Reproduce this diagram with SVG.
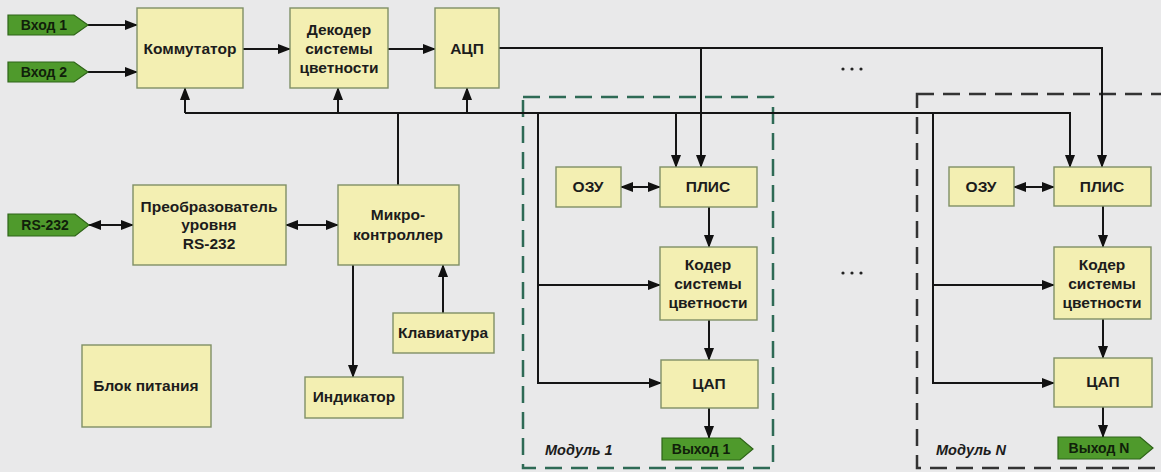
<svg xmlns="http://www.w3.org/2000/svg" width="1161" height="472" viewBox="0 0 1161 472">
<style>
.box{fill:#f3efb2;stroke:#7f8f66;stroke-width:1.4}
.tag{fill:#4f9a2c;stroke:#2e6418;stroke-width:1.2}
.t{font-family:"Liberation Sans",Arial,sans-serif;font-weight:bold;font-size:15.5px;fill:#1c1c1c;text-anchor:middle}
.tt{font-family:"Liberation Sans",Arial,sans-serif;font-weight:bold;font-size:14px;fill:#10200a;text-anchor:middle}
.mod{font-family:"Liberation Sans",Arial,sans-serif;font-weight:bold;font-style:italic;font-size:14.5px;fill:#1c1c1c}
.ln{fill:none;stroke:#151515;stroke-width:2}
.a{marker-end:url(#ah)}
.b{marker-start:url(#ahs);marker-end:url(#ah)}
.dash1{fill:none;stroke:#2e6a55;stroke-width:2.5;stroke-dasharray:17 9}
.dashN{fill:none;stroke:#333;stroke-width:2.5;stroke-dasharray:17 9}
.dot{fill:#222}
</style>
<defs>
<marker id="ah" markerWidth="13" markerHeight="10" refX="12" refY="5" orient="auto" markerUnits="userSpaceOnUse"><path d="M0,0 L13,5 L0,10 Z" fill="#111"/></marker>
<marker id="ahs" markerWidth="13" markerHeight="10" refX="1" refY="5" orient="auto" markerUnits="userSpaceOnUse"><path d="M13,0 L0,5 L13,10 Z" fill="#111"/></marker>
</defs>
<rect x="0" y="0" width="1161" height="472" fill="#e9e9ea"/>

<g id="module-frames">
<rect class="dash1" x="523" y="97" width="250" height="371"/>
<rect class="dashN" x="917" y="94" width="270" height="374"/>
</g>

<g id="connectors">
<line class="ln a" x1="88" y1="25" x2="137" y2="25"/>
<line class="ln a" x1="88" y1="72" x2="137" y2="72"/>
<line class="ln a" x1="243" y1="49" x2="290" y2="49"/>
<line class="ln a" x1="388" y1="49" x2="435" y2="49"/>
<polyline class="ln a" points="499,48 1102,48 1102,167"/>
<line class="ln a" x1="701" y1="48" x2="701" y2="167"/>
<polyline class="ln a" points="185,113 1070,113 1070,167"/>
<line class="ln a" x1="185" y1="113" x2="185" y2="88"/>
<line class="ln a" x1="338" y1="113" x2="338" y2="88"/>
<line class="ln a" x1="467" y1="113" x2="467" y2="88"/>
<line class="ln a" x1="676" y1="113" x2="676" y2="167"/>
<line class="ln" x1="398" y1="113" x2="398" y2="185"/>
<polyline class="ln a" points="538,113 538,383 661,383"/>
<line class="ln a" x1="538" y1="285" x2="660" y2="285"/>
<polyline class="ln a" points="933,113 933,383 1054,383"/>
<line class="ln a" x1="933" y1="285" x2="1054" y2="285"/>
<line class="ln b" x1="621" y1="187" x2="660" y2="187"/>
<line class="ln b" x1="1014" y1="187" x2="1054" y2="187"/>
<line class="ln a" x1="709" y1="207" x2="709" y2="247"/>
<line class="ln a" x1="709" y1="320" x2="709" y2="360"/>
<line class="ln a" x1="709" y1="408" x2="709" y2="438"/>
<line class="ln a" x1="1103" y1="206" x2="1103" y2="247"/>
<line class="ln a" x1="1103" y1="319" x2="1103" y2="358"/>
<line class="ln a" x1="1103" y1="407" x2="1103" y2="437"/>
<line class="ln b" x1="89" y1="225" x2="133" y2="225"/>
<line class="ln b" x1="286" y1="225" x2="338" y2="225"/>
<line class="ln a" x1="353" y1="265" x2="353" y2="377"/>
<line class="ln a" x1="443" y1="313" x2="443" y2="265"/>
</g>

<g id="in1"><path class="tag" d="M8,15 H74 L88,25 L74,35 H8 Z"/><text class="tt" x="44" y="30">Вход 1</text></g>
<g id="in2"><path class="tag" d="M8,62 H74 L88,72 L74,82 H8 Z"/><text class="tt" x="44" y="77">Вход 2</text></g>
<g id="rs232"><path class="tag" d="M8,214 H75 L89,225 L75,236 H8 Z"/><text class="tt" x="45" y="230">RS-232</text></g>

<g id="kommutator"><rect class="box" x="137" y="8" width="106" height="80"/><text class="t" x="190" y="54">Коммутатор</text></g>
<g id="dekoder"><rect class="box" x="290" y="8" width="98" height="80"/><text class="t" x="339" y="35">Декодер</text><text class="t" x="339" y="54">системы</text><text class="t" x="339" y="73">цветности</text></g>
<g id="acp"><rect class="box" x="435" y="8" width="64" height="80"/><text class="t" x="467" y="54">АЦП</text></g>
<g id="preobr"><rect class="box" x="133" y="185" width="153" height="80"/><text class="t" x="209" y="212">Преобразователь</text><text class="t" x="209" y="230">уровня</text><text class="t" x="209" y="249">RS-232</text></g>
<g id="micro"><rect class="box" x="338" y="185" width="121" height="80"/><text class="t" x="398" y="220">Микро-</text><text class="t" x="398" y="240">контроллер</text></g>
<g id="klav"><rect class="box" x="393" y="313" width="101" height="40"/><text class="t" x="443" y="338">Клавиатура</text></g>
<g id="indikator"><rect class="box" x="305" y="377" width="98" height="41"/><text class="t" x="354" y="402">Индикатор</text></g>
<g id="blok"><rect class="box" x="82" y="345" width="129" height="82"/><text class="t" x="146" y="391">Блок питания</text></g>

<g id="ozu1"><rect class="box" x="556" y="167" width="65" height="40"/><text class="t" x="588" y="192">ОЗУ</text></g>
<g id="plis1"><rect class="box" x="660" y="167" width="97" height="40"/><text class="t" x="708" y="192">ПЛИС</text></g>
<g id="koder1"><rect class="box" x="660" y="247" width="97" height="73"/><text class="t" x="708" y="270">Кодер</text><text class="t" x="708" y="289">системы</text><text class="t" x="708" y="308">цветности</text></g>
<g id="cap1"><rect class="box" x="661" y="360" width="97" height="48"/><text class="t" x="709" y="389">ЦАП</text></g>
<g id="out1"><path class="tag" d="M662,438 H740 L753,449 L740,460 H662 Z"/><text class="tt" x="701" y="454">Выход 1</text></g>
<g id="mod1label"><text class="mod" x="545" y="455">Модуль 1</text></g>

<g id="ozuN"><rect class="box" x="949" y="167" width="65" height="39"/><text class="t" x="981" y="192">ОЗУ</text></g>
<g id="plisN"><rect class="box" x="1054" y="167" width="97" height="39"/><text class="t" x="1102" y="192">ПЛИС</text></g>
<g id="koderN"><rect class="box" x="1054" y="247" width="97" height="72"/><text class="t" x="1102" y="270">Кодер</text><text class="t" x="1102" y="289">системы</text><text class="t" x="1102" y="308">цветности</text></g>
<g id="capN"><rect class="box" x="1054" y="358" width="98" height="49"/><text class="t" x="1103" y="387">ЦАП</text></g>
<g id="outN"><path class="tag" d="M1058,437 H1140 L1153,448 L1140,459 H1058 Z"/><text class="tt" x="1099" y="453">Выход N</text></g>
<g id="modNlabel"><text class="mod" x="936" y="455">Модуль N</text></g>

<g id="ellipses">
<circle class="dot" cx="843" cy="69" r="1.6"/><circle class="dot" cx="852" cy="69" r="1.6"/><circle class="dot" cx="861" cy="69" r="1.6"/>
<circle class="dot" cx="843" cy="273" r="1.6"/><circle class="dot" cx="852" cy="273" r="1.6"/><circle class="dot" cx="861" cy="273" r="1.6"/>
</g>
</svg>
